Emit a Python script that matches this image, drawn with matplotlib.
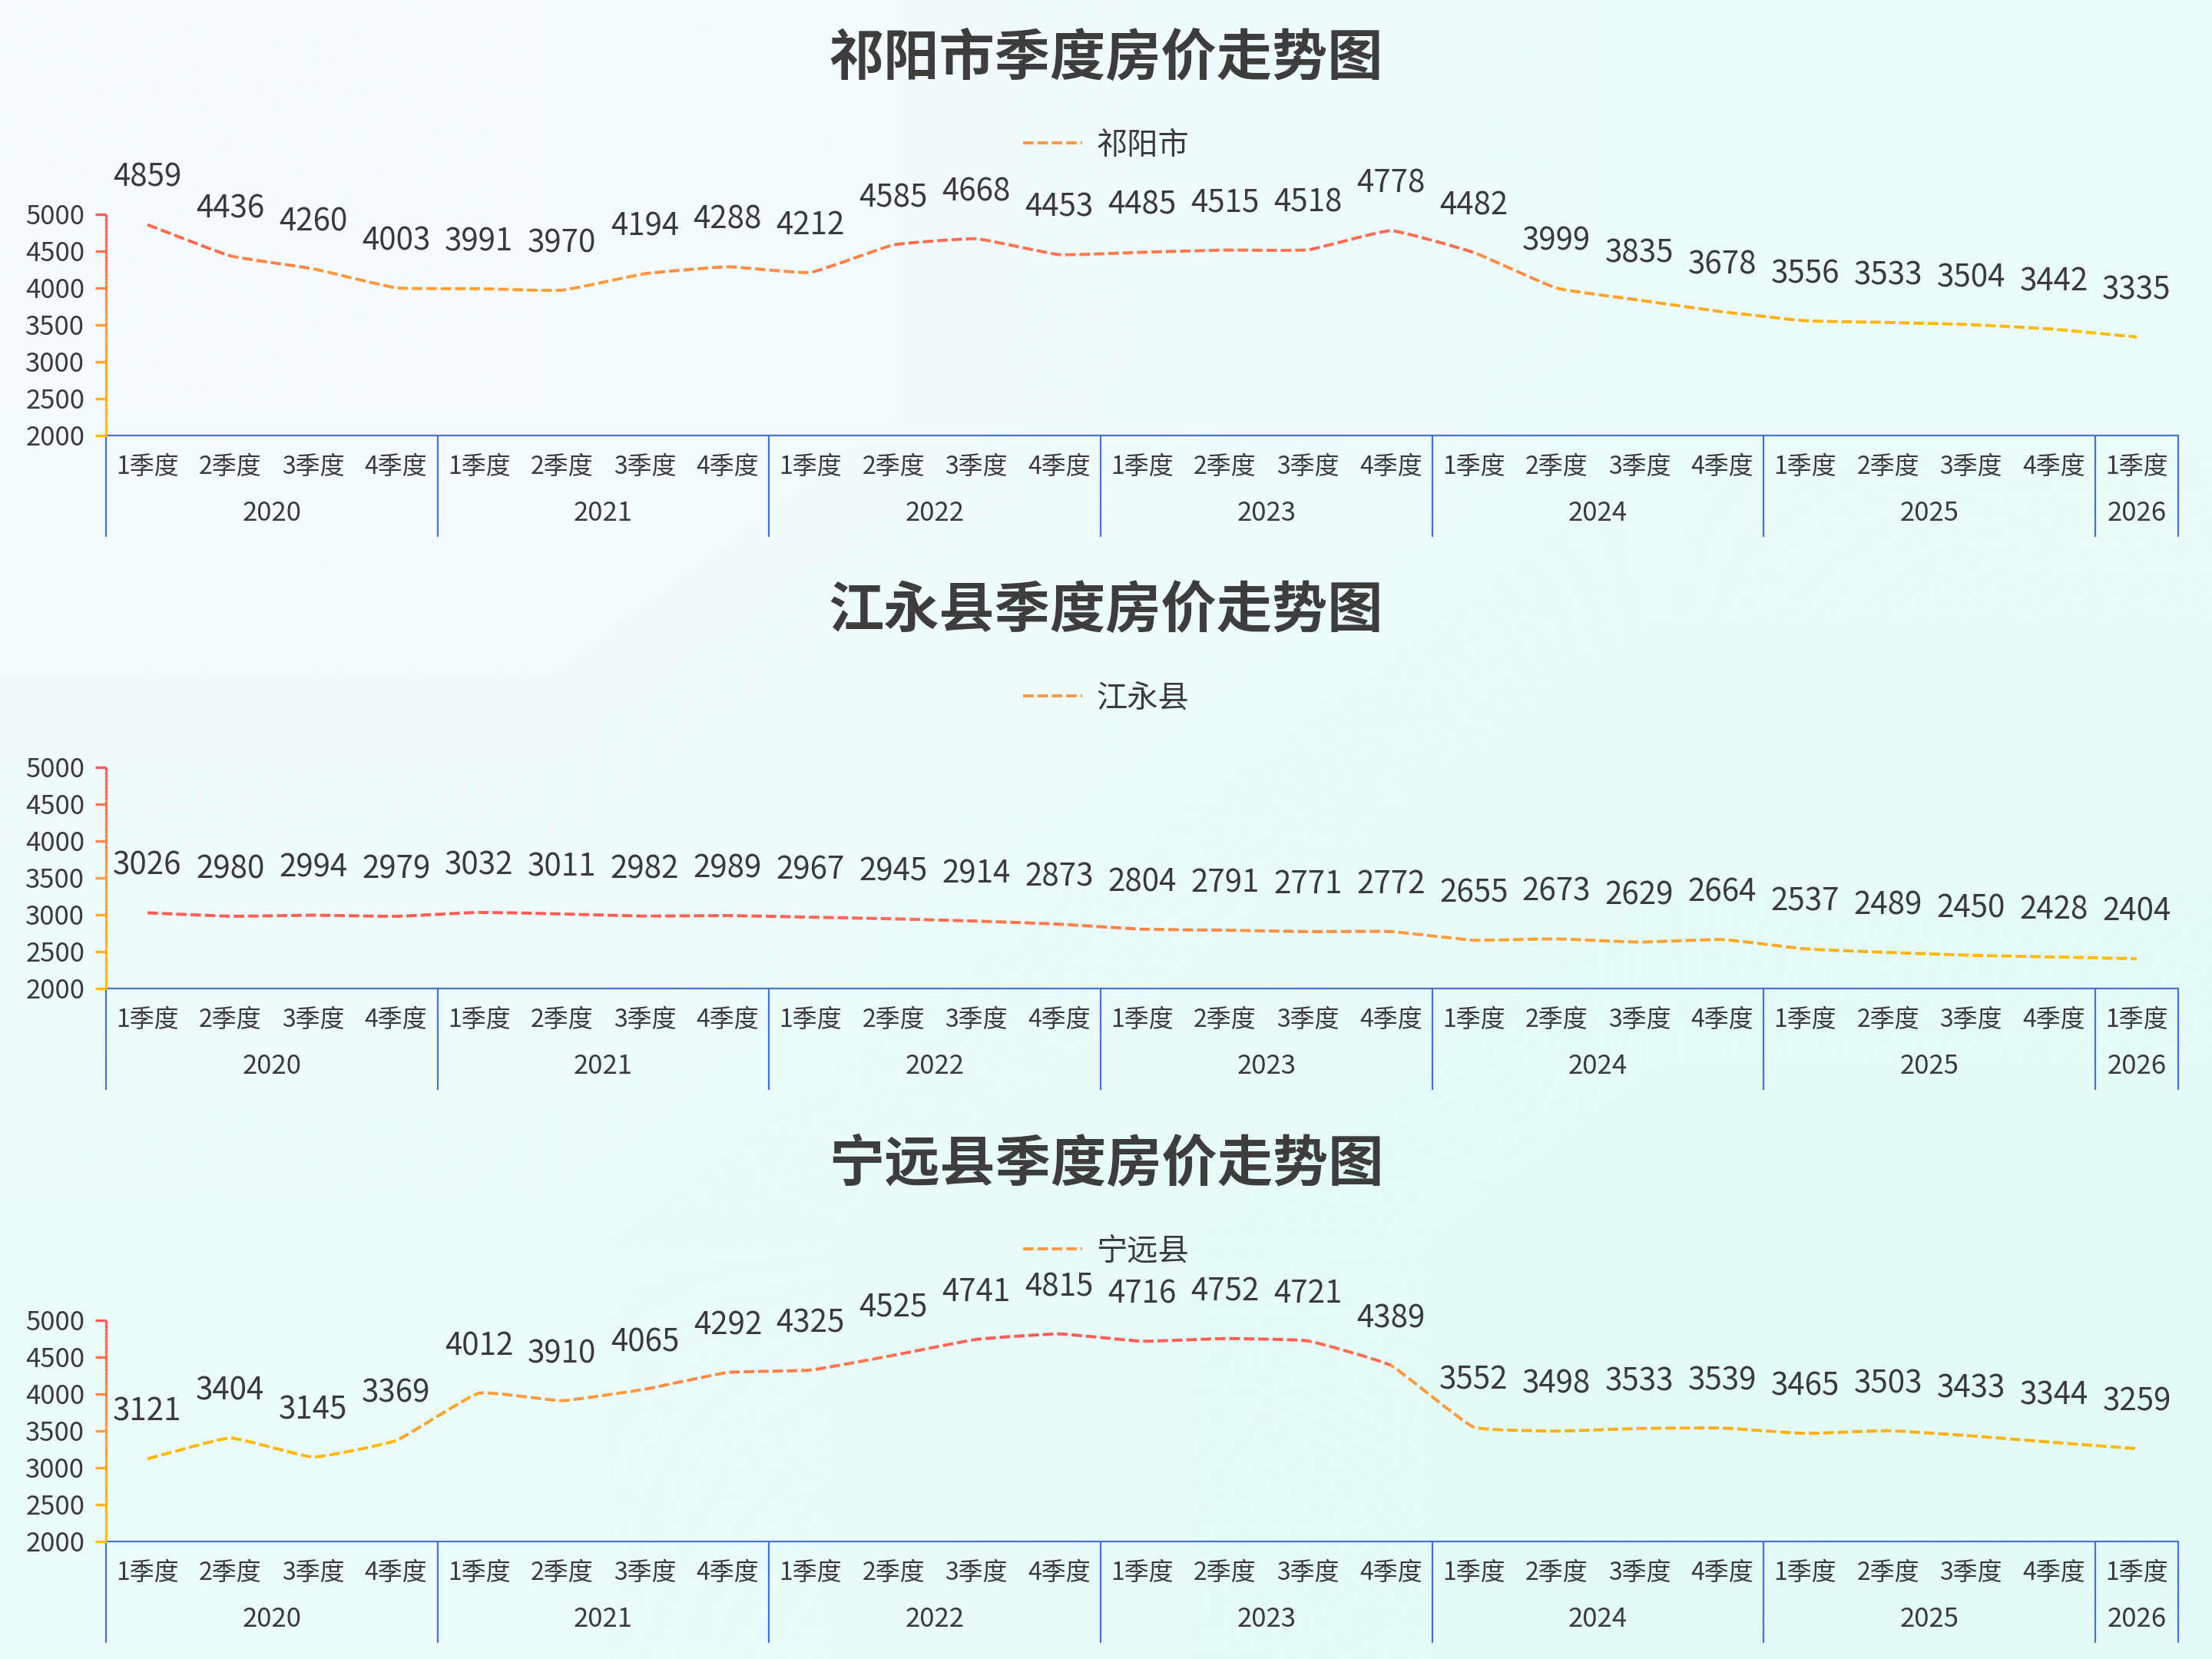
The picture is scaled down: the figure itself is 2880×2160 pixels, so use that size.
import numpy as np
import matplotlib
matplotlib.use("Agg")
import matplotlib.pyplot as plt
from matplotlib.colors import LinearSegmentedColormap, to_rgb
from matplotlib.collections import LineCollection
from matplotlib.lines import Line2D
from matplotlib.patches import PathPatch
from matplotlib.path import Path
from matplotlib import transforms

plt.rcParams['font.family'] = ['Noto Sans CJK SC', 'DejaVu Sans']

# ---- data ----
years = ['2020', '2021', '2022', '2023', '2024', '2025', '2026']
quarters_per_year = [4, 4, 4, 4, 4, 4, 1]
quarter_names = ['1季度', '2季度', '3季度', '4季度']

titles = ['祁阳市季度房价走势图', '江永县季度房价走势图', '宁远县季度房价走势图']
names = ['祁阳市', '江永县', '宁远县']

qiyang = [4859, 4436, 4260, 4003, 3991, 3970, 4194, 4288, 4212, 4585, 4668, 4453,
          4485, 4515, 4518, 4778, 4482, 3999, 3835, 3678, 3556, 3533, 3504, 3442, 3335]
jiangyong = [3026, 2980, 2994, 2979, 3032, 3011, 2982, 2989, 2967, 2945, 2914, 2873,
             2804, 2791, 2771, 2772, 2655, 2673, 2629, 2664, 2537, 2489, 2450, 2428, 2404]
ningyuan = [3121, 3404, 3145, 3369, 4012, 3910, 4065, 4292, 4325, 4525, 4741, 4815,
            4716, 4752, 4721, 4389, 3552, 3498, 3533, 3539, 3465, 3503, 3433, 3344, 3259]
series = [qiyang, jiangyong, ningyuan]

y_ticks = [2000, 2500, 3000, 3500, 4000, 4500, 5000]

# ---- style ----
W, H, DPI = 2880, 2160, 100
TEXT = '#3a3a3a'
BLUE = '#4a72c8'
grad = LinearSegmentedColormap.from_list('g', ['#ff5a5a', '#ff9c42', '#ffbf00'])
LW = 2.9
DASH_ON, DASH_OFF = 3.4, 1.25
SMOOTH = 0.12

fig = plt.figure(figsize=(W / DPI, H / DPI), dpi=DPI)

# background gradient
bg = fig.add_axes([0, 0, 1, 1], zorder=-10)
c0, c1 = np.array(to_rgb('#f5fbff')), np.array(to_rgb('#e2fbf7'))
img = np.array([[c0, (c0 + c1) / 2], [(c0 + c1) / 2, c1]])
bg.imshow(img, aspect='auto', interpolation='bilinear', extent=[0, 1, 0, 1])
bg.axis('off')

labels_x = []
for q in quarters_per_year:
    labels_x += quarter_names[:q]


def smooth_segments(ax, xs, ys, smooth):
    # echarts-like bezier control points, computed in pixel space
    pts = ax.transData.transform(np.column_stack([xs, ys]))
    n = len(pts)
    cp_next = np.zeros_like(pts)
    cp_prev = np.zeros_like(pts)
    for i in range(n):
        p = pts[i]
        prv = pts[i - 1] if i > 0 else p
        nxt = pts[i + 1] if i < n - 1 else p
        v = nxt - prv
        d0 = np.hypot(*(p - prv))
        d1 = np.hypot(*(nxt - p))
        r = d1 / (d0 + d1) if d0 + d1 > 0 else 0.5
        cp_next[i] = p + v * smooth * r
        cp_prev[i] = p - v * smooth * (1 - r)
    return [np.array([pts[i], cp_next[i], cp_prev[i + 1], pts[i + 1]]) for i in range(n - 1)]


def bez_len(b):
    t = np.linspace(0, 1, 30)[:, None]
    p = ((1 - t) ** 3 * b[0] + 3 * (1 - t) ** 2 * t * b[1]
         + 3 * (1 - t) * t ** 2 * b[2] + t ** 3 * b[3])
    return np.sum(np.hypot(*np.diff(p, axis=0).T))


for k in range(3):
    off = 720 * k
    vals = series[k]
    x = np.arange(len(vals))

    ax = fig.add_axes([138 / W, 1 - (567 + off) / H, 2698 / W, 288 / H])
    ax.set_facecolor('none')
    ax.set_xlim(-0.5, len(vals) - 0.5)
    ax.set_ylim(2000, 5000)

    for s in ['top', 'right', 'left']:
        ax.spines[s].set_visible(False)
    ax.spines['bottom'].set_color(BLUE)
    ax.spines['bottom'].set_linewidth(1.6)

    # y axis: labels, gradient axis line and gradient ticks
    ax.set_yticks(y_ticks)
    ax.tick_params(axis='y', length=0, pad=20, labelsize=25, labelcolor=TEXT)
    ytr = ax.get_yaxis_transform()
    yy = np.linspace(2000, 5000, 61)
    ysegs = [[(0, yy[i]), (0, yy[i + 1])] for i in range(len(yy) - 1)]
    ycols = [grad((5000 - (yy[i] + yy[i + 1]) / 2) / 3000) for i in range(len(yy) - 1)]
    ax.add_collection(LineCollection(ysegs, colors=ycols, linewidths=2.4,
                                     transform=ytr, clip_on=False, zorder=3))
    tsegs = [[(-14 / 2698, v), (0, v)] for v in y_ticks]
    tcols = [grad((5000 - v) / 3000) for v in y_ticks]
    ax.add_collection(LineCollection(tsegs, colors=tcols, linewidths=2.4,
                                     transform=ytr, clip_on=False, zorder=3))

    # category axis
    ax.set_xticks([])
    lab_tr = transforms.offset_copy(ax.get_xaxis_transform(), fig=fig, y=-41, units='dots')
    yr_tr = transforms.offset_copy(ax.get_xaxis_transform(), fig=fig, y=-102, units='dots')
    for i, q in enumerate(labels_x):
        ax.text(i, 0, q, transform=lab_tr, ha='center', va='center', fontsize=23, color=TEXT)
    start = 0
    bounds = [-0.5]
    for yname, nq in zip(years, quarters_per_year):
        ax.text(start + (nq - 1) / 2, 0, yname, transform=yr_tr, ha='center', va='center',
                fontsize=25, color=TEXT)
        start += nq
        bounds.append(start - 0.5)
    ax.vlines(bounds, -132 / 288, 0, transform=ax.get_xaxis_transform(),
              colors=BLUE, linewidth=1.6, clip_on=False)

    # dashed gradient line, lightly smoothed
    segs = smooth_segments(ax, x, vals, SMOOTH)
    inv = ax.transData.inverted()
    vmin, vmax = min(vals), max(vals)
    period = DASH_ON + DASH_OFF
    cum = 0.0
    for i, b in enumerate(segs):
        mid = (vals[i] + vals[i + 1]) / 2
        col = grad((vmax - mid) / (vmax - vmin))
        path = Path(inv.transform(b), [Path.MOVETO, Path.CURVE4, Path.CURVE4, Path.CURVE4])
        pp = PathPatch(path, fill=False, edgecolor=col, linewidth=LW, capstyle='butt',
                       clip_on=False)
        pp.set_linestyle(((cum % period), (DASH_ON, DASH_OFF)))
        ax.add_patch(pp)
        cum += bez_len(b) * 72 / DPI / LW

    # value labels
    for i, v in enumerate(vals):
        ax.annotate(str(v), (i, v), xytext=(0, 44), textcoords='offset points',
                    ha='center', va='center', fontsize=29, color=TEXT, annotation_clip=False)

    # title & legend
    fig.text(0.5, 1 - (77 + off) / H, titles[k], ha='center', va='center',
             fontsize=52, fontweight='bold', color='#3d3d3d')
    handle = Line2D([], [], color='#ff9a48', linewidth=LW, dashes=(DASH_ON, DASH_OFF))
    ax.legend([handle], [names[k]], loc='center', bbox_to_anchor=(0.5, 1 - (189 + off) / H),
              bbox_transform=fig.transFigure, frameon=False, fontsize=29,
              handlelength=1.9, handletextpad=0.45, labelcolor=TEXT)

fig.savefig('out.png', dpi=DPI)
